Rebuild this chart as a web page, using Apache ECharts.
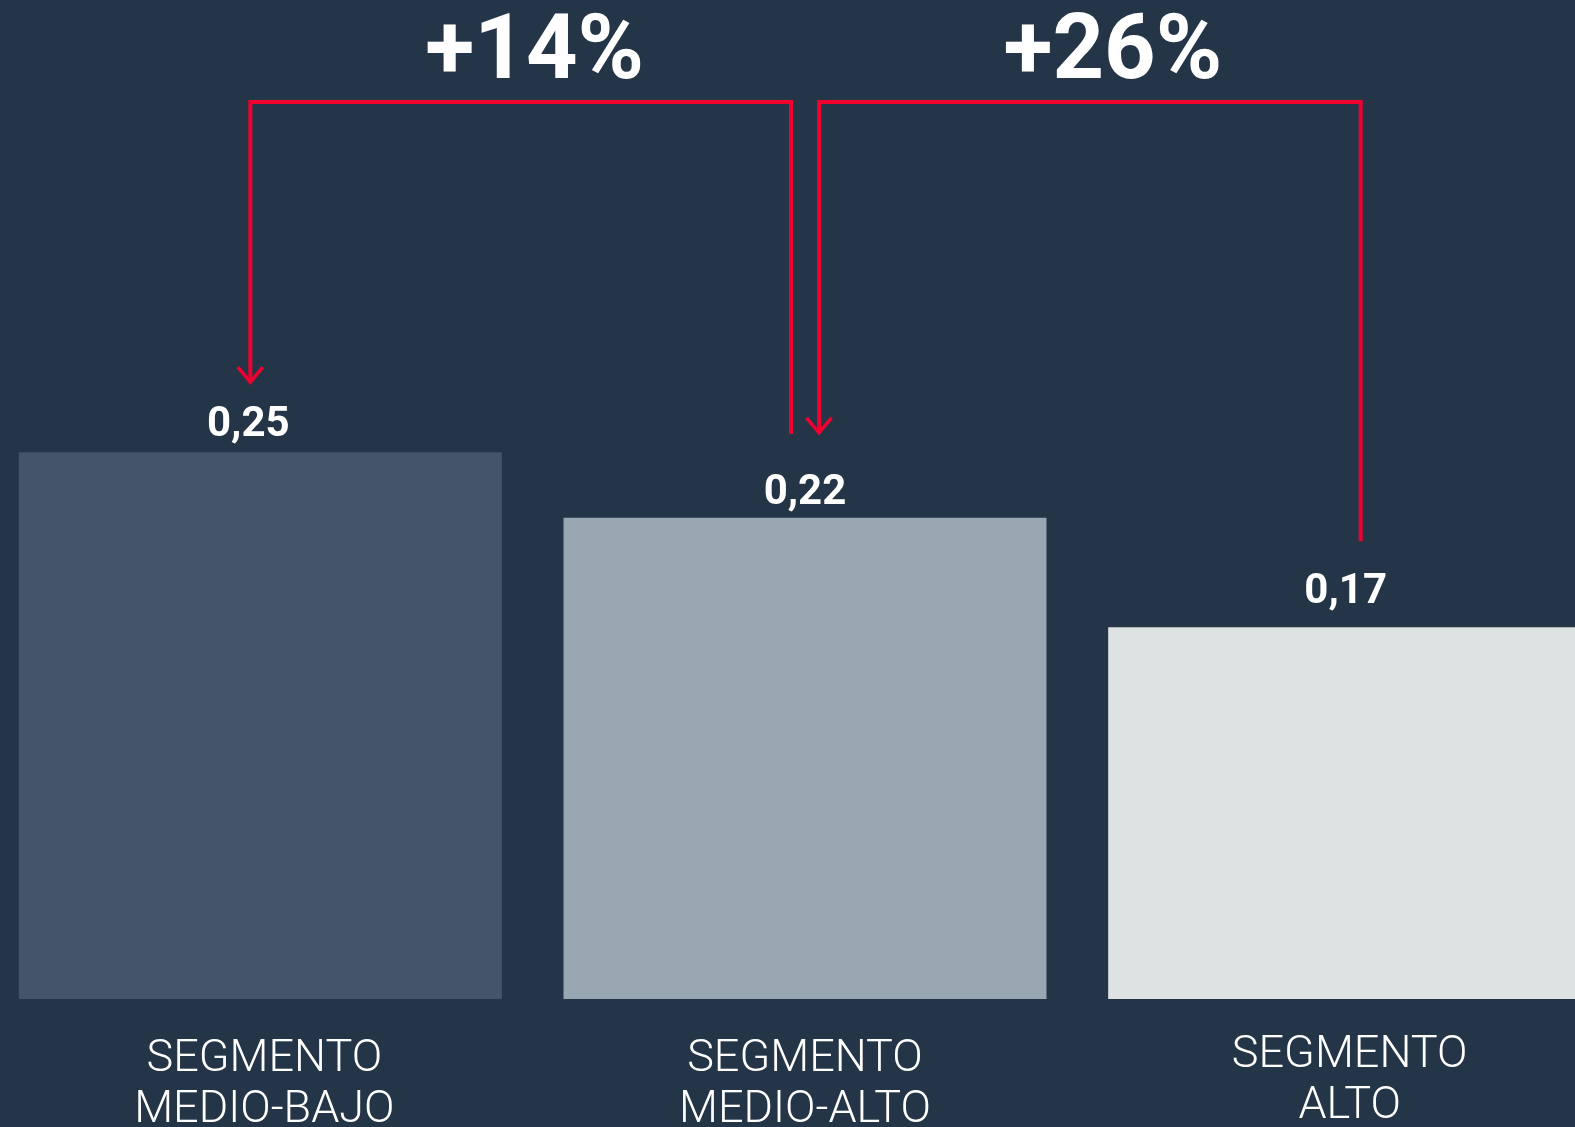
<!DOCTYPE html>
<html>
<head>
<meta charset="utf-8">
<style>
  html, body { margin: 0; padding: 0; background: #243547; }
  #chart { width: 1575px; height: 1127px; }
</style>
<script src="https://cdn.jsdelivr.net/npm/echarts@6/dist/echarts.min.js"></script>
</head>
<body>
<div id="chart"></div>
<script>
// Segments and their values
const categories = ['SEGMENTO\nMEDIO-BAJO', 'SEGMENTO\nMEDIO-ALTO', 'SEGMENTO\nALTO'];
const values = [0.25, 0.22, 0.17];
// Comparison brackets: [from segment, to segment]
const comparisons = [[0, 1], [1, 2]];
const changeLabels = ['+14%', '+26%'];

// Styling
const barColors = ['#435566', '#99a7b2', '#dde2e3'];
const valueLabelShift = [[-12, 0], [0, 3], [-4, -8]];
const categoryPad = [[5, 0, 0, 8], [5, 0, 0, 0], [1, 0, 0, 0]];
const RED = '#f0002f';
const bracketGeom = [
  { dxFrom: -10, dxTo: -14, gapFrom: 69, gapTo: 84, textDx: 14 },
  { dxFrom: 14, dxTo: 11, gapFrom: 84, gapTo: 86, textDx: 23 }
];

const fmt = v => v.toFixed(2).replace('.', ',');

const chart = echarts.init(document.getElementById('chart'), null, { renderer: 'canvas' });

chart.setOption({
  backgroundColor: '#243547',
  animation: false,
  grid: { left: -12, right: -47, top: 0, bottom: 128, outerBoundsMode: 'none', containLabel: false },
  xAxis: {
    type: 'category',
    data: categories.map((c, i) => ({
      value: c,
      textStyle: { padding: categoryPad[i] }
    })),
    axisLine: { show: false },
    axisTick: { show: false },
    axisLabel: {
      interval: 0,
      margin: 30,
      color: '#ffffff',
      fontFamily: 'Roboto',
      fontWeight: 300,
      fontSize: 45,
      lineHeight: 51,
      align: 'center'
    }
  },
  yAxis: { type: 'value', min: 0, max: 0.4567, show: false, splitLine: { show: false } },
  series: [
    {
      type: 'bar',
      barWidth: 483,
      data: values.map((v, i) => ({
        value: v,
        itemStyle: { color: barColors[i] },
        label: { offset: valueLabelShift[i] }
      })),
      label: {
        show: true,
        position: 'top',
        distance: 6,
        color: '#ffffff',
        fontFamily: 'Roboto',
        fontWeight: 700,
        fontSize: 42,
        formatter: p => fmt(p.value)
      }
    },
    {
      type: 'custom',
      coordinateSystem: 'cartesian2d',
      clip: false,
      silent: true,
      z: 5,
      data: comparisons.map(c => [c[0], c[1]]),
      renderItem: (params, api) => {
        const k = params.dataIndex;
        const g = bracketGeom[k];
        const a = api.value(0), b = api.value(1);
        const pa = api.coord([a, values[a]]);
        const pb = api.coord([b, values[b]]);
        const xa = pa[0] + g.dxFrom, ya = pa[1] - g.gapFrom;
        const xb = pb[0] + g.dxTo, yb = pb[1] - g.gapTo;
        const yTop = params.coordSys.y + 102;
        const lineStyle = { stroke: RED, lineWidth: 4, fill: null, lineJoin: 'miter', lineCap: 'butt' };
        return {
          type: 'group',
          children: [
            {
              type: 'polyline',
              shape: { points: [[xa, ya - 2], [xa, yTop], [xb, yTop], [xb, yb]] },
              style: lineStyle
            },
            {
              type: 'polyline',
              shape: { points: [[xa - 12.5, ya - 16], [xa, ya - 1], [xa + 12.5, ya - 16]] },
              style: { stroke: RED, lineWidth: 3.5, fill: null, lineJoin: 'miter' }
            },
            {
              type: 'text',
              style: {
                text: changeLabels[k],
                x: (xa + xb) / 2 + g.textDx,
                y: params.coordSys.y + 55,
                align: 'center',
                verticalAlign: 'middle',
                fill: '#ffffff',
                font: '700 90px Roboto'
              }
            }
          ]
        };
      }
    }
  ]
});
</script>
</body>
</html>
